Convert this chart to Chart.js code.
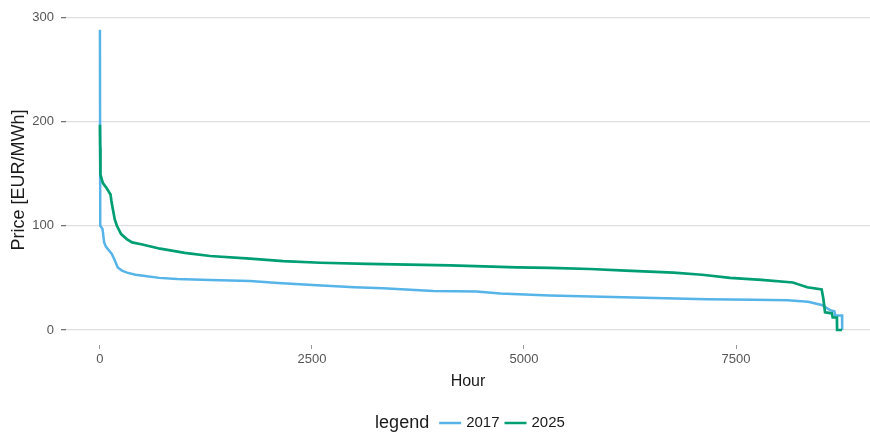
<!DOCTYPE html>
<html lang="en">

<head>
  <meta charset="UTF-8" />
  <title>Price duration curve</title>
  <style>
    html, body { margin: 0; padding: 0; background: #fff; overflow: hidden; }
    #priceChart { display: block; }
  </style>
</head>

<body>
  <canvas id="priceChart" width="870" height="433"></canvas>

  <script src="https://cdn.jsdelivr.net/npm/chart.js"></script>
  <script>
    // sorted hourly prices (hour rank -> EUR/MWh)
    const hours2017 = [0, 4, 30, 38, 50, 70, 110, 140, 175, 210, 260, 320, 420, 510, 700, 910, 1300, 1770,
      2100, 2560, 3000, 3340, 3930, 4440, 4720, 5300, 6170, 7160, 7700, 8110, 8350, 8510, 8610, 8660, 8670,
      8750, 8752];
    const price2017 = [288, 100, 97, 92, 84, 80, 76, 73, 67, 60, 57, 55, 53, 52, 50, 49, 48, 47,
      45, 43, 41, 40, 37.5, 37, 35, 33, 31.5, 29.5, 29, 28.5, 27, 24, 19, 18, 14,
      14, 0];

    const hours2025 = [0, 3, 6, 35, 80, 125, 135, 150, 175, 200, 250, 320, 380, 500, 710, 1000, 1300, 1770,
      2160, 2600, 3150, 4130, 4920, 5300, 5780, 6200, 6760, 7100, 7430, 7800, 8170, 8340, 8510, 8530, 8550,
      8630, 8640, 8690, 8692, 8750];
    const price2025 = [197, 175, 149, 141, 136, 130, 124, 117, 106, 100, 92, 87, 84, 82, 78, 74, 71, 68.5,
      66, 64.5, 63.5, 62, 60, 59.5, 58.5, 57, 55, 53, 50, 48, 45.6, 41, 39, 30, 17,
      16, 12, 12, 0, 0];

    const seriesNames = ['2017', '2025'];
    const seriesColors = ['#56B4E9', '#009E73'];

    const xTicks = [0, 2500, 5000, 7500];
    const yTicks = [0, 100, 200, 300];

    const FONT = '"Liberation Sans", Arial, Helvetica, sans-serif';

    const toPoints = (xs, ys) => xs.map((h, i) => ({ x: h, y: ys[i] }));

    // ggplot-style legend: "legend" title on the left, then key + label pairs in one row
    const bottomLegend = {
      id: 'bottomLegend',
      afterDraw(chart) {
        const ctx = chart.ctx;
        const area = chart.chartArea;
        const y = 423;
        ctx.save();
        ctx.textBaseline = 'middle';
        ctx.textAlign = 'left';
        ctx.font = '18px ' + FONT;
        const titleW = ctx.measureText('legend').width;
        ctx.font = '15px ' + FONT;
        const keyW = 22, gapTitle = 10, gapKey = 5, gapItem = 5;
        const items = chart.data.datasets.map(ds => ({
          text: ds.label, color: ds.borderColor, w: ctx.measureText(ds.label).width
        }));
        let total = titleW + gapTitle;
        items.forEach((it, i) => { total += keyW + gapKey + it.w + (i < items.length - 1 ? gapItem : 0); });
        let x = (area.left + area.right) / 2 - total / 2 + 2;

        ctx.fillStyle = '#1a1a1a';
        ctx.font = '18px ' + FONT;
        ctx.fillText('legend', x, y);
        x += titleW + gapTitle;

        ctx.font = '15px ' + FONT;
        items.forEach(it => {
          ctx.strokeStyle = it.color;
          ctx.lineWidth = 2.5;
          ctx.beginPath();
          ctx.moveTo(x, y);
          ctx.lineTo(x + keyW, y);
          ctx.stroke();
          x += keyW + gapKey;
          ctx.fillStyle = '#1a1a1a';
          ctx.fillText(it.text, x, y);
          x += it.w + gapItem;
        });
        ctx.restore();
      }
    };

    new Chart(document.getElementById('priceChart'), {
      type: 'line',
      data: {
        datasets: [{
          label: seriesNames[0],
          data: toPoints(hours2017, price2017),
          borderColor: seriesColors[0],
          borderWidth: 2.5,
          pointRadius: 0,
          tension: 0,
          fill: false,
          order: 1
        }, {
          label: seriesNames[1],
          data: toPoints(hours2025, price2025),
          borderColor: seriesColors[1],
          borderWidth: 2.7,
          pointRadius: 0,
          tension: 0,
          fill: false,
          order: 0
        }]
      },
      options: {
        responsive: false,
        animation: false,
        devicePixelRatio: 1,
        layout: { padding: { top: 11.5, right: 0, bottom: 0, left: 0 } },
        plugins: {
          legend: { display: false },
          tooltip: { enabled: false }
        },
        scales: {
          x: {
            type: 'linear',
            min: -400,
            max: 9080,
            afterBuildTicks: scale => { scale.ticks = xTicks.map(v => ({ value: v })); },
            afterFit: scale => { scale.height = 88; },
            border: { display: false },
            grid: {
              drawOnChartArea: false,
              drawTicks: true,
              tickLength: 4,
              tickColor: '#9a9a9a',
              lineWidth: 1
            },
            ticks: {
              padding: 3,
              maxRotation: 0,
              color: '#555',
              font: { family: FONT, size: 13 },
              callback: v => String(v)
            },
            title: {
              display: true,
              text: 'Hour',
              color: '#1a1a1a',
              font: { family: FONT, size: 16 },
              padding: { top: 0, bottom: 42 }
            }
          },
          y: {
            min: -14.4,
            max: 302.4,
            afterBuildTicks: scale => { scale.ticks = yTicks.map(v => ({ value: v })); },
            afterFit: scale => { scale.width = 66; },
            border: { display: false },
            grid: {
              color: '#dedede',
              lineWidth: 1.3,
              tickLength: 5,
              tickColor: '#777'
            },
            ticks: {
              padding: 7,
              color: '#555',
              font: { family: FONT, size: 13 },
              callback: v => String(v)
            },
            title: {
              display: true,
              text: 'Price [EUR/MWh]',
              color: '#1a1a1a',
              font: { family: FONT, size: 18 },
              padding: { top: 8, bottom: 0 }
            }
          }
        }
      },
      plugins: [bottomLegend]
    });
  </script>
</body>

</html>
